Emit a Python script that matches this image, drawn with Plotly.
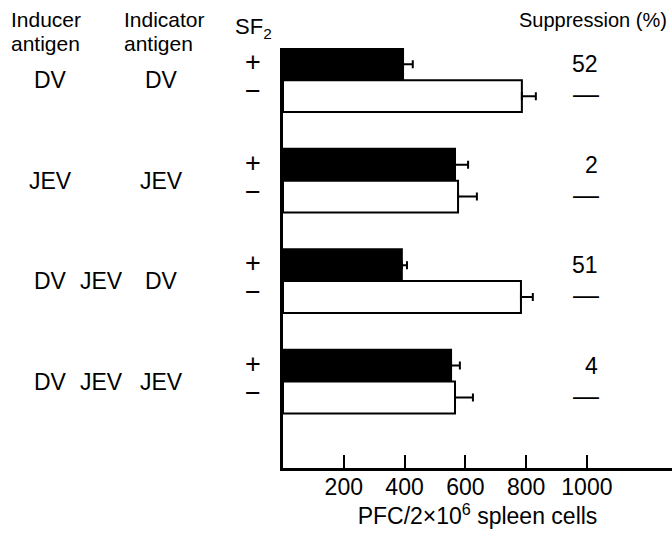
import plotly.graph_objects as go

# ---- data ----
inducer = ["DV", "JEV", "DV JEV", "DV JEV"]
indicator = ["DV", "JEV", "DV", "JEV"]
with_sf2 = [395, 566, 391, 553]          # SF2 +  (black bars)
with_sf2_err = [32, 43, 17, 29]
without_sf2 = [786, 576, 783, 566]      # SF2 -  (white bars)
without_sf2_err = [46, 62, 39, 59]
suppression = ["52", "2", "51", "4"]
x_ticks = [200, 400, 600, 800, 1000]

FONT = "Liberation Sans, Arial, Helvetica, sans-serif"
W, H = 672, 535
ML, MR, MT, MB = 283, 0, 48, 67
PW, PH = W - ML - MR, H - MT - MB
XMAX = 1280

groups = list(range(len(inducer)))

fig = go.Figure()
fig.add_trace(go.Bar(
    y=groups, x=with_sf2, orientation="h", name="+",
    marker=dict(color="black", line=dict(color="black", width=2)),
    error_x=dict(type="data", array=with_sf2_err, arrayminus=[0]*4, symmetric=False,
                 color="black", thickness=2, width=4),
))
fig.add_trace(go.Bar(
    y=groups, x=without_sf2, orientation="h", name="-",
    marker=dict(color="white", line=dict(color="black", width=2)),
    error_x=dict(type="data", array=without_sf2_err, arrayminus=[0]*4, symmetric=False,
                 color="black", thickness=2, width=4),
))

def px_x(px):
    return (px - ML) / PW

def px_y(py):
    return (H - MB - py) / PH

ann = []
def add(text, x, y, yref="paper", xanchor="center", size=22, yanchor="middle"):
    ann.append(dict(text=text, x=x, y=y, xref="paper", yref=yref, xanchor=xanchor,
                    yanchor=yanchor, showarrow=False, font=dict(family=FONT, size=size, color="black")))

# headers
add("Inducer", px_x(9), px_y(19), xanchor="left", size=21)
add("antigen", px_x(9), px_y(43), xanchor="left", size=21)
add("Indicator", px_x(122), px_y(19), xanchor="left", size=21)
add("antigen", px_x(122), px_y(43), xanchor="left", size=21)
add("SF<sub>2</sub>", px_x(233), px_y(28), xanchor="left", size=22)
add("Suppression (%)", px_x(669), px_y(20), xanchor="right", size=20)

inducer_cols = [50, 101]
off = 0.16
for i in groups:
    for j, tok in enumerate(inducer[i].split()):
        add(tok, px_x(inducer_cols[j]), i, yref="y", xanchor="center", size=23)
    add(indicator[i], px_x(161), i, yref="y", xanchor="center", size=23)
    add("+", px_x(253), i - off - 0.02, yref="y", size=27)
    add("\u2212", px_x(253), i + off - 0.05, yref="y", size=27)
    add(suppression[i], px_x(600), i - off, yref="y", xanchor="right", size=23)
    add("\u2014", px_x(601), i + off - 0.02, yref="y", xanchor="right", size=26)

fig.update_layout(
    width=W, height=H,
    margin=dict(l=ML, r=MR, t=MT, b=MB),
    paper_bgcolor="white", plot_bgcolor="white",
    barmode="group", bargap=0.364, bargroupgap=0,
    showlegend=False,
    annotations=ann,
    font=dict(family=FONT, size=22, color="black"),
    xaxis=dict(range=[0, XMAX], tickvals=x_ticks, ticktext=[str(v) for v in x_ticks],
               ticks="inside", ticklen=13, tickwidth=2, tickcolor="black",
               showline=True, linewidth=3, linecolor="black", showgrid=False, zeroline=False,
               tickfont=dict(family=FONT, size=23, color="black"), ticklabelstandoff=-4,
               title=dict(text="PFC/2\u00d710<sup>6</sup> spleen cells",
                          font=dict(family=FONT, size=23, color="black"), standoff=8)),
    yaxis=dict(range=[3.86, -0.32], showticklabels=False, ticks="", showgrid=False,
               zeroline=False, showline=True, linewidth=3, linecolor="black"),
)

fig.write_html("out.html")
